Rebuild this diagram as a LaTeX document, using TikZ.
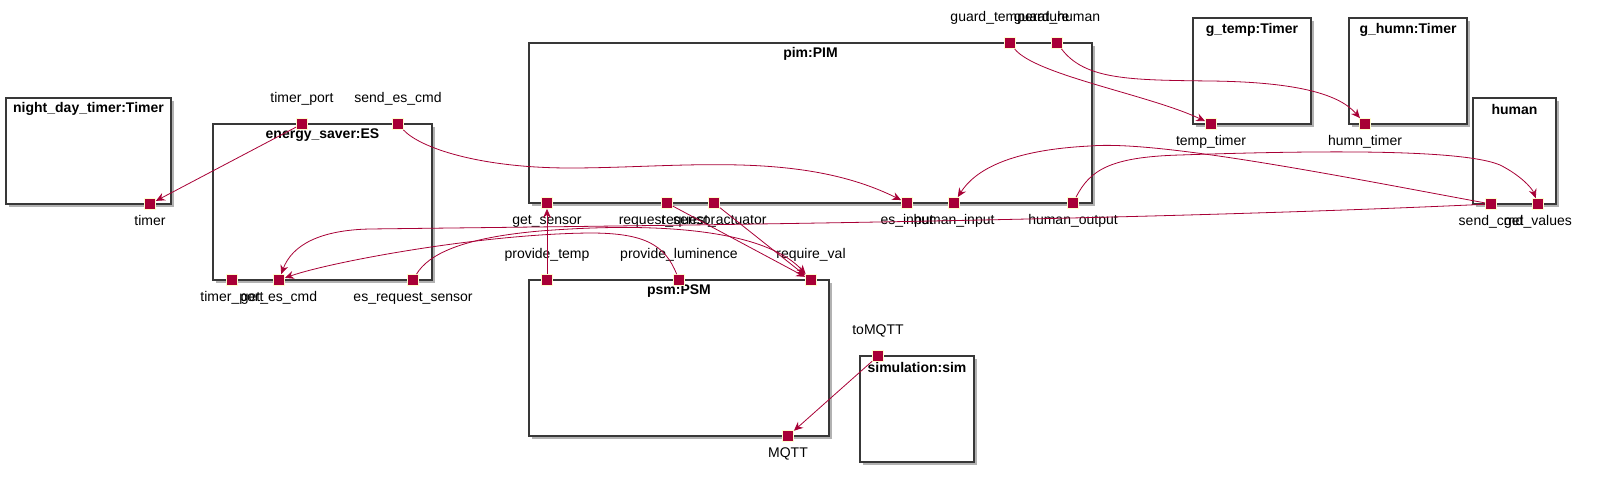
\documentclass[tikz,border=0pt]{standalone}
\usepackage{fontspec}
\setmainfont{Liberation Sans}
\usetikzlibrary{arrows.meta}
\usetikzlibrary{shadows}

\definecolor{portred}{HTML}{A80036}
\definecolor{portedge}{HTML}{FEFECE}
\definecolor{boxedge}{HTML}{383838}

\begin{document}
\begin{tikzpicture}[x=1pt, y=-1pt,
	comp/.style={draw=boxedge, fill=white, line width=1.5pt, inner sep=0pt,
		drop shadow={shadow xshift=3pt, shadow yshift=-3pt, fill=black, opacity=0.3}},
	ctitle/.style={font=\fontsize{14}{16}\selectfont\bfseries, inner sep=0pt},
	port/.style={draw=portedge, fill=portred, line width=0.8pt, minimum size=11pt, inner sep=0pt},
	plabel/.style={font=\fontsize{14}{16}\selectfont, inner sep=0pt, text height=10pt, text depth=3pt},
	tport/.style={port, label={[plabel, label distance=12.5pt]above:#1}},
	bport/.style={port, label={[plabel, label distance=5.5pt]below:#1}},
	conn/.style={draw=portred, line width=0.8pt, -{Stealth[length=9pt, width=8pt, inset=3pt]}}]

	\useasboundingbox (0,0) rectangle (1617,489);

	% components
	\node[comp, minimum width=165pt, minimum height=106pt] (ndt) at (88.5,151) {};
	\node[comp, minimum width=219pt, minimum height=156pt] (es) at (322.5,202) {};
	\node[comp, minimum width=563pt, minimum height=160pt] (pim) at (810.5,123) {};
	\node[comp, minimum width=300pt, minimum height=156pt] (psm) at (679,358) {};
	\node[comp, minimum width=114pt, minimum height=106pt] (sim) at (917,409) {};
	\node[comp, minimum width=118pt, minimum height=106pt] (gtemp) at (1252,71) {};
	\node[comp, minimum width=118pt, minimum height=106pt] (ghumn) at (1408,71) {};
	\node[comp, minimum width=83pt, minimum height=106pt] (human) at (1514.5,151) {};

	\node[ctitle] (ndt-t) at ([yshift=-12pt]ndt.north) {night\_day\_timer:Timer};
	\node[ctitle] (es-t) at ([yshift=-12pt]es.north) {energy\_saver:ES};
	\node[ctitle] (pim-t) at ([yshift=-12pt]pim.north) {pim:PIM};
	\node[ctitle] (psm-t) at ([yshift=-12pt]psm.north) {psm:PSM};
	\node[ctitle] (sim-t) at ([yshift=-12pt]sim.north) {simulation:sim};
	\node[ctitle] (gtemp-t) at ([yshift=-13pt]gtemp.north) {g\_temp:Timer};
	\node[ctitle] (ghumn-t) at ([yshift=-13pt]ghumn.north) {g\_humn:Timer};
	\node[ctitle] (human-t) at ([yshift=-12pt]human.north) {human};

	% ports
	\node[bport=timer] (timer) at (150,204) {};

	\node[tport={timer\_port}] (esTimerPort) at (302,124) {};
	\node[tport={send\_es\_cmd}] (sendEsCmd) at (398,124) {};
	\node[bport={timer\_port}] (esTimerPortB) at (232,280) {};
	\node[bport={get\_es\_cmd}] (getEsCmd) at (279,280) {};
	\node[bport={es\_request\_sensor}] (esReqSensor) at (413,280) {};

	\node[tport={guard\_temperature}] (guardTemp) at (1010,43) {};
	\node[tport={guard\_human}] (guardHuman) at (1057,43) {};
	\node[bport={get\_sensor}] (getSensor) at (547,203) {};
	\node[bport={request\_sensor}] (reqSensor) at (667,203) {};
	\node[bport={request\_actuator}] (reqActuator) at (714,203) {};
	\node[bport={es\_input}] (esInput) at (907,203) {};
	\node[bport={human\_input}] (humanInput) at (954,203) {};
	\node[bport={human\_output}] (humanOutput) at (1073,203) {};

	\node[tport={provide\_temp}] (provideTemp) at (547,280) {};
	\node[tport={provide\_luminence}] (provideLum) at (679,280) {};
	\node[tport={require\_val}] (requireVal) at (811,280) {};
	\node[bport={MQTT}] (mqtt) at (788,436) {};

	\node[tport={toMQTT}] (toMqtt) at (878,356) {};

	\node[bport={temp\_timer}] (tempTimer) at (1211,124) {};
	\node[bport={humn\_timer}] (humnTimer) at (1365,124) {};

	\node[bport={send\_cmd}] (sendCmd) at (1491,204) {};
	\node[bport={get\_values}] (getValues) at (1538,204) {};

	% connectors
	\draw[conn] (esTimerPort) -- (timer);
	\draw[conn] (sendEsCmd) .. controls (420,148) and (480,168) .. (570,168)
		.. controls (680,168) and (800,150) .. (esInput);
	\draw[conn] (guardTemp) .. controls (1035,75) and (1150,95) .. (tempTimer);
	\draw[conn] (guardHuman) .. controls (1085,80) and (1130,80) .. (1210,81)
		.. controls (1300,82) and (1340,95) .. (humnTimer);
	\draw[conn] (humanOutput) .. controls (1090,170) and (1110,157) .. (1180,155)
		.. controls (1300,151) and (1460,148) .. (1500,165)
		.. controls (1520,175) and (1532,188) .. (getValues);
	\draw[conn] (sendCmd) .. controls (1350,178) and (1160,140) .. (1090,146)
		.. controls (1010,150) and (975,170) .. (humanInput);
	\draw[conn] (sendCmd) .. controls (1100,222) and (600,226) .. (370,229)
		.. controls (320,230) and (292,245) .. (getEsCmd);
	\draw[conn] (provideLum) .. controls (665,245) and (645,233) .. (590,233)
		.. controls (480,234) and (330,262) .. (getEsCmd);
	\draw[conn] (esReqSensor) .. controls (428,255) and (460,238) .. (540,231)
		.. controls (680,220) and (770,235) .. (requireVal);
	\draw[conn] (reqSensor) -- (requireVal);
	\draw[conn] (reqActuator) -- (requireVal);
	\draw[conn] (provideTemp) -- (getSensor);
	\draw[conn] (toMqtt) -- (mqtt);

\end{tikzpicture}
\end{document}
